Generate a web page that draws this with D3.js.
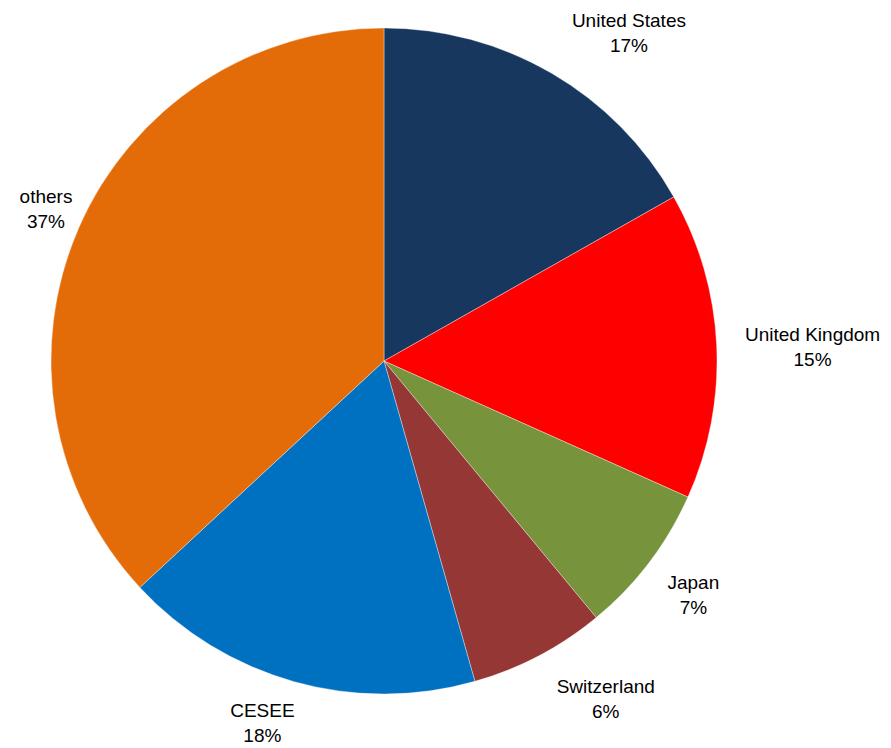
<!DOCTYPE html>
<html>
<head>
<meta charset="utf-8">
<script src="https://cdn.jsdelivr.net/npm/d3@7"></script>
<style>
  body { margin: 0; background: #fff; }
  text { font-family: "Liberation Sans", "DejaVu Sans", sans-serif; font-size: 19px; fill: #000; }
</style>
</head>
<body>
<svg id="chart" width="891" height="748"></svg>
<script>
// shares, clockwise from 12 o'clock
const regions = ["United States", "United Kingdom", "Japan", "Switzerland", "CESEE", "others"];
const shares = [16.8, 14.9, 7.3, 6.6, 17.5, 36.9];
const percentLabels = ["17%", "15%", "7%", "6%", "18%", "37%"];
const colors = ["#17375E", "#FF0000", "#77933C", "#953735", "#0070C0", "#E36C09"];

// small pixel nudges so labels sit where Excel's best fit put them
const labelNudge = [[46, 12], [34, 4], [-5, -6], [38, -13], [-15, -19], [24, 5]];

const cx = 384, cy = 361, radius = 333, labelRadius = 395;

const svg = d3.select("#chart");
const g = svg.append("g").attr("transform", `translate(${cx},${cy})`);

const pie = d3.pie().sort(null).value(d => d.value);
const arcs = pie(regions.map((r, i) => ({ name: r, value: shares[i], pct: percentLabels[i], i: i })));

const arc = d3.arc().innerRadius(0).outerRadius(radius);
const labelArc = d3.arc().innerRadius(labelRadius).outerRadius(labelRadius);

g.selectAll("path.slice")
    .data(arcs)
    .enter()
    .append("path")
    .attr("class", "slice")
    .attr("d", arc)
    .style("fill", d => colors[d.data.i])
    .style("stroke", "#ffffff")
    .style("stroke-opacity", 0.45)
    .style("stroke-width", 0.8);

const labels = g.selectAll("text.lbl")
    .data(arcs)
    .enter()
    .append("text")
    .attr("class", "lbl")
    .attr("text-anchor", "middle")
    .attr("transform", function (d) {
        const [x, y] = labelArc.centroid(d);
        const n = labelNudge[d.data.i];
        return `translate(${x + n[0]},${y + n[1]})`;
    });

labels.append("tspan")
    .attr("x", 0)
    .attr("y", -5)
    .text(d => d.data.name);

labels.append("tspan")
    .attr("x", 0)
    .attr("y", 20)
    .text(d => d.data.pct);
</script>
</body>
</html>
